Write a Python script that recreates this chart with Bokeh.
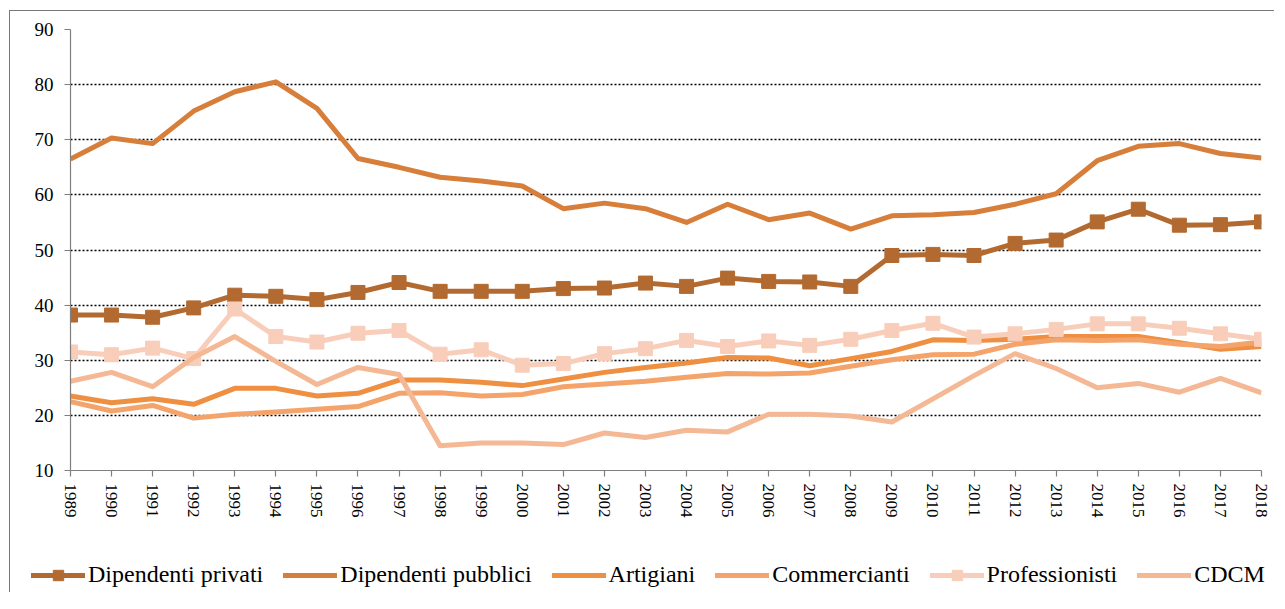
from bokeh.plotting import figure
from bokeh.models import Range1d, FixedTicker, Legend, LegendItem
from bokeh.embed import file_html
from bokeh.resources import INLINE

years = list(range(1989, 2019))
y_ticks = [10, 20, 30, 40, 50, 60, 70, 80, 90]

dip_privati = [38.2, 38.2, 37.8, 39.5, 41.8, 41.6, 41.0, 42.3, 44.1, 42.5,
               42.5, 42.5, 43.0, 43.1, 44.0, 43.4, 44.9, 44.3, 44.2, 43.4,
               49.0, 49.2, 49.0, 51.2, 51.8, 55.1, 57.4, 54.5, 54.6, 55.1]
dip_pubblici = [66.5, 70.3, 69.3, 75.2, 78.7, 80.5, 75.7, 66.6, 65.0, 63.2,
                62.5, 61.6, 57.5, 58.5, 57.5, 55.0, 58.3, 55.5, 56.7, 53.8,
                56.2, 56.4, 56.8, 58.3, 60.2, 66.2, 68.8, 69.3, 67.5, 66.7]
artigiani = [23.5, 22.3, 23.0, 22.0, 24.9, 24.9, 23.5, 24.0, 26.4, 26.4,
             26.0, 25.4, 26.6, 27.8, 28.7, 29.5, 30.5, 30.4, 29.0, 30.3,
             31.6, 33.7, 33.6, 33.8, 34.3, 34.3, 34.3, 33.2, 32.0, 32.5]
commercianti = [22.5, 20.8, 21.8, 19.5, 20.2, 20.6, 21.1, 21.6, 24.0, 24.1,
                23.5, 23.8, 25.2, 25.7, 26.2, 26.9, 27.6, 27.5, 27.7, 28.9,
                30.1, 31.0, 31.1, 32.9, 33.7, 33.6, 33.7, 32.9, 32.5, 33.3]
professionisti = [31.5, 31.0, 32.2, 30.3, 39.3, 34.3, 33.3, 34.9, 35.4, 31.1,
                  31.9, 29.1, 29.4, 31.2, 32.1, 33.6, 32.5, 33.5, 32.7, 33.8,
                  35.4, 36.7, 34.2, 34.8, 35.6, 36.6, 36.6, 35.8, 34.8, 33.8]
cdcm = [26.2, 27.8, 25.2, 30.5, 34.3, 29.8, 25.6, 28.7, 27.4, 14.5,
        15.0, 15.0, 14.7, 16.8, 16.0, 17.3, 17.0, 20.2, 20.2, 19.9,
        18.8, 23.0, 27.2, 31.2, 28.5, 25.0, 25.8, 24.2, 26.7, 24.1]

series = [
    ("Dipendenti privati", dip_privati, "#B26A30", True),
    ("Dipendenti pubblici", dip_pubblici, "#D77F3A", False),
    ("Artigiani", artigiani, "#EE8F41", False),
    ("Commercianti", commercianti, "#F4A46B", False),
    ("Professionisti", professionisti, "#F8CEBA", True),
    ("CDCM", cdcm, "#F5B894", False),
]

FONT = "Liberation Serif"
W = 1265
BORDER = "1px solid #777777"

p = figure(width=W, height=515, output_backend="svg", toolbar_location=None,
           x_range=Range1d(1989, 2018), y_range=Range1d(10, 90),
           min_border_left=60, min_border_top=18, min_border_right=W - 60 - 1191,
           min_border_bottom=56, margin=(10, 0, 0, 9),
           styles={"border-top": BORDER, "border-left": BORDER})
p.outline_line_color = None
p.background_fill_color = "white"
p.border_fill_color = "white"

p.xgrid.grid_line_color = None
p.ygrid.grid_line_color = "black"
p.ygrid.grid_line_dash = "2 2"
p.ygrid.grid_line_width = 1.6
p.ygrid.ticker = FixedTicker(ticks=y_ticks)

p.xaxis.ticker = FixedTicker(ticks=years)
p.xaxis.major_label_orientation = "vertical"
p.yaxis.ticker = FixedTicker(ticks=y_ticks)
for ax in (p.xaxis[0], p.yaxis[0]):
    ax.axis_line_color = "#7f7f7f"
    ax.axis_line_width = 1.2
    ax.major_tick_line_color = "#7f7f7f"
    ax.major_tick_line_width = 1.2
    ax.major_tick_out = 6
    ax.major_tick_in = 0
    ax.minor_tick_line_color = None
    ax.major_label_text_font = FONT
    ax.major_label_text_color = "black"
p.xaxis.major_label_text_font_size = "17px"
p.yaxis.major_label_text_font_size = "19px"
p.xaxis.major_label_standoff = 7
p.yaxis.major_label_standoff = 11

for name, vals, color, marker in series:
    p.line(years, vals, line_color=color, line_width=5, line_join="round")
    if marker:
        p.scatter(years, vals, marker="square", size=14, fill_color=color,
                  line_color=color)

# legend strip below the chart (its renderers lie outside its visible range)
leg = figure(width=W, height=67, output_backend="svg", toolbar_location=None,
             x_range=Range1d(0, 1), y_range=Range1d(0, 1),
             x_axis_type=None, y_axis_type=None,
             min_border_left=0, min_border_right=0, min_border_top=0,
             min_border_bottom=0, margin=(0, 0, 0, 9),
             styles={"border-left": BORDER})
leg.outline_line_color = None
leg.xgrid.visible = False
leg.ygrid.visible = False

items = []
for name, vals, color, marker in series:
    rs = [leg.line(years, vals, line_color=color, line_width=5, line_cap="round")]
    if marker:
        rs.append(leg.scatter(years, vals, marker="square", size=14,
                              fill_color=color, line_color=color))
    items.append(LegendItem(label=name, renderers=rs))

legend = Legend(items=items, orientation="horizontal", location=(21, 4),
                label_text_font=FONT, label_text_font_size="24px",
                label_text_color="black", glyph_width=54, glyph_height=26,
                label_standoff=3, spacing=20, padding=0, margin=0,
                border_line_color=None, background_fill_alpha=0)
leg.add_layout(legend, "center")

open("out.html", "w").write(file_html([p, leg], INLINE))
